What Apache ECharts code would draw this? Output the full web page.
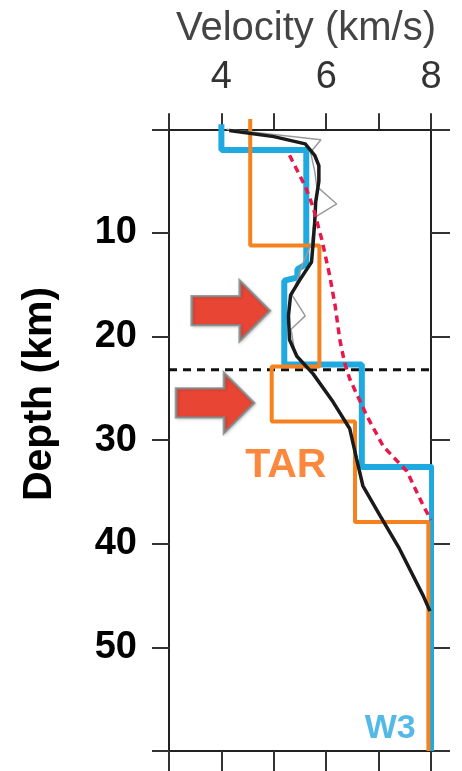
<!DOCTYPE html>
<html>
<head>
<meta charset="utf-8">
<script src="https://cdn.jsdelivr.net/npm/echarts@6/dist/echarts.min.js"></script>
<style>
html,body{margin:0;padding:0;background:#fff;}
#c{width:462px;height:771px;}
</style>
</head>
<body>
<div id="c"></div>
<script>
// Velocity (km/s) vs depth (km) profiles: [velocity, depth]
var w3Profile = [[4.0,-0.5],[4.0,2.0],[5.62,2.0],[5.62,13.0],[5.45,13.5],[5.45,14.3],[5.2,14.6],[5.2,22.7],[6.68,22.7],[6.68,32.6],[8.02,32.6],[8.02,60]];
var tarProfile = [[4.55,-1],[4.55,11.2],[5.87,11.2],[5.87,22.9],[4.96,22.9],[4.96,28.2],[6.55,28.2],[6.55,37.9],[7.95,37.9],[7.95,60]];
var blackProfile = [[4.15,0.1],[5.0,0.7],[5.6,1.4],[5.78,2.5],[5.86,3.5],[5.86,5],[5.8,7],[5.78,9],[5.75,11],[5.72,12.8],[5.5,14.5],[5.32,16],[5.28,18],[5.3,20.3],[5.44,21.9],[5.75,23.6],[6.13,26.3],[6.45,28.9],[6.58,31.8],[6.7,34.4],[7.03,37.3],[7.4,40.5],[7.85,45],[7.98,46.5]];
var redProfile = [[5.3,2.5],[5.45,4],[5.6,5.5],[5.75,7.5],[5.85,9.4],[5.92,10.7],[6.07,14.2],[6.17,17],[6.26,20.3],[6.35,22.5],[6.45,24.1],[6.78,27.7],[7.09,30.6],[7.54,33],[7.85,36.3],[8.0,37.7]];
var grayProfile = [[4.1,0],[5.9,1.0],[5.7,2.2],[5.78,4],[5.82,5.5],[6.2,7.2],[5.78,8.5],[5.72,11],[5.55,13],[5.35,16],[5.6,18],[5.33,19.3],[5.4,21.5]];
var moho = 23.2;
var mohoLine = [[3,moho],[8,moho]];
var arrowPoints = [[4.18,17.5],[3.88,26.4]];
var xTicks = [3,4,5,6,7,8];
var xLabels = [4,6,8];
var yTicks = [0,10,20,30,40,50,60];
var yLabels = [10,20,30,40,50];
var labelTAR = {text:'TAR', v:5.23, d:32.5};
var labelW3 = {text:'W3', v:7.22, d:57.8};
var xTitle = 'Velocity (km/s)';
var yTitle = 'Depth (km)';

var FONT = '"Liberation Sans", Arial, sans-serif';
var chart = echarts.init(document.getElementById('c'));
var arrowPath = 'path://M0,16 L48,16 L48,0 L78,31 L48,62 L48,46 L0,46 Z';

function lineSeries(name, data, color, width, type, z) {
  return {
    name: name, type: 'line', data: data, showSymbol: false, symbol: 'none',
    lineStyle: {color: color, width: width, type: type || 'solid'},
    z: z, animation: false, silent: true
  };
}

var axisLineStyle = {color: '#222', width: 2};
var tickStyle = {color: '#333', width: 2};

chart.setOption({
  backgroundColor: '#fff',
  animation: false,
  textStyle: {fontFamily: FONT},
  grid: {left: 169, top: 119, width: 262, height: 632, containLabel: false, outerBoundsMode: 'none'},
  graphic: [{
    type: 'text', x: 40, y: 394, rotation: Math.PI / 2, silent: true,
    style: {text: yTitle, align: 'center', verticalAlign: 'middle', fill: '#000',
      font: 'bold 41px ' + FONT}
  }, {
    type: 'text', x: 306, y: 29, silent: true,
    style: {text: xTitle, align: 'center', verticalAlign: 'middle', fill: '#444',
      font: '40px ' + FONT}
  }],
  xAxis: [{
    type: 'value', position: 'top', min: 3, max: 8,
    axisLine: {show: true, lineStyle: axisLineStyle},
    axisTick: {show: true, inside: false, length: 16, lineStyle: tickStyle, customValues: xTicks},
    axisLabel: {show: true, margin: 22, fontSize: 38, color: '#333', fontFamily: FONT, customValues: xLabels},
    splitLine: {show: false}
  }, {
    type: 'value', position: 'bottom', min: 3, max: 8,
    axisLine: {show: true, onZero: false, lineStyle: axisLineStyle},
    axisTick: {show: true, inside: false, length: 20, lineStyle: tickStyle, customValues: xTicks},
    axisLabel: {show: false},
    splitLine: {show: false}
  }],
  yAxis: [{
    type: 'value', position: 'left', min: -1, max: 60, inverse: true,
    axisLine: {show: true, onZero: false, lineStyle: axisLineStyle},
    axisTick: {show: true, inside: false, length: 17, lineStyle: tickStyle, customValues: yTicks},
    axisLabel: {show: true, margin: 32, fontSize: 38, fontWeight: 'bold', color: '#000', fontFamily: FONT, customValues: yLabels},
    splitLine: {show: false}
  }, {
    type: 'value', position: 'right', min: -1, max: 60, inverse: true,
    axisLine: {show: true, onZero: false, lineStyle: axisLineStyle},
    axisTick: {show: true, inside: false, length: 19, lineStyle: tickStyle, customValues: yTicks},
    axisLabel: {show: false},
    splitLine: {show: false}
  }],
  series: [
    lineSeries('Moho', mohoLine, '#111', 3, [8, 6], 1),
    lineSeries('W3', w3Profile, '#1ea9e1', 6, 'solid', 2),
    lineSeries('TAR', tarProfile, '#f5821f', 4, 'solid', 3),
    lineSeries('gray', grayProfile, '#9a9a9a', 1.5, 'solid', 4),
    lineSeries('black', blackProfile, '#1a1a1a', 3.5, 'solid', 5),
    lineSeries('red', redProfile, '#e8184a', 3.5, [7, 5], 6),
    {
      name: 'arrows', type: 'scatter', data: arrowPoints, symbol: arrowPath,
      symbolSize: [78, 60],
      itemStyle: {color: '#ee200c', borderColor: '#7c8b8b', borderWidth: 2.5,
        shadowColor: 'rgba(0,0,0,0.2)', shadowBlur: 3, shadowOffsetX: 1, shadowOffsetY: 1},
      z: 10, silent: true, animation: false
    },
    {
      name: 'labels', type: 'scatter', symbolSize: 0, silent: true, z: 11,
      data: [
        {value: [labelTAR.v, labelTAR.d], label: {show: true, formatter: labelTAR.text, position: 'inside', fontSize: 41, fontWeight: 'bold', color: '#fb6a0c', fontFamily: FONT}},
        {value: [labelW3.v, labelW3.d], label: {show: true, formatter: labelW3.text, position: 'inside', fontSize: 34, fontWeight: 'bold', color: '#2aa8e2', fontFamily: FONT}}
      ]
    }
  ]
});
</script>
</body>
</html>
